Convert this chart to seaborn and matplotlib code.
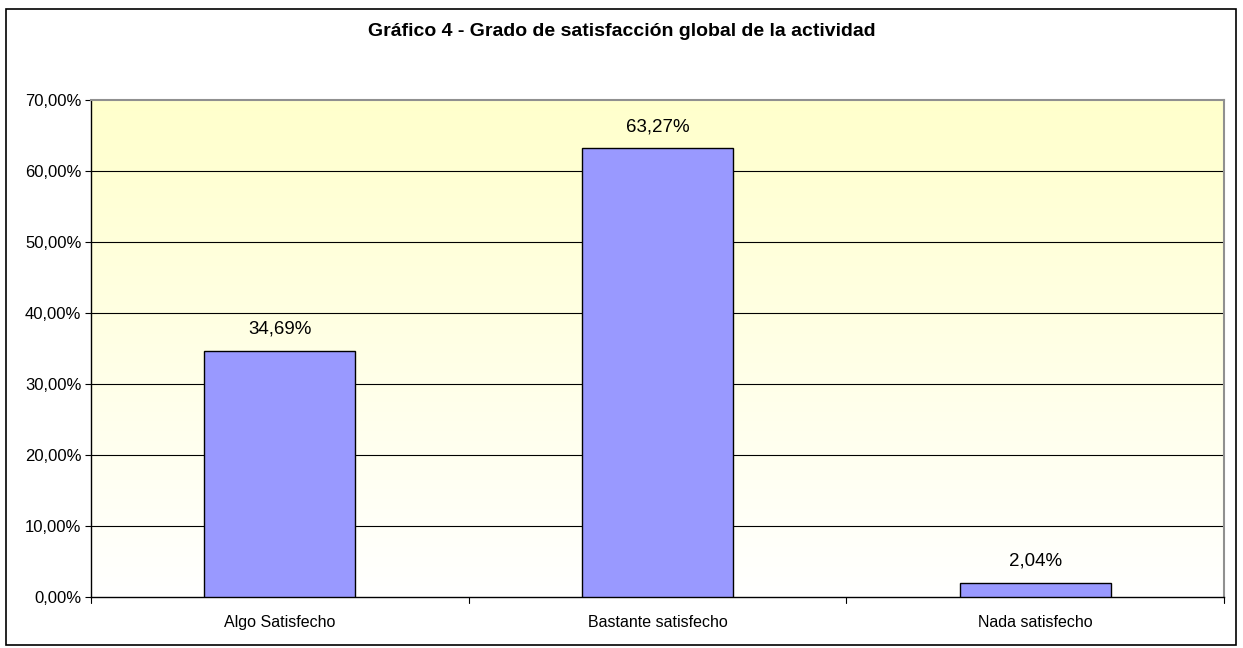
import numpy as np
import pandas as pd
import matplotlib
matplotlib.use("Agg")
import matplotlib.pyplot as plt
import seaborn as sns
from matplotlib.patches import Rectangle
from matplotlib.colors import LinearSegmentedColormap

categories = ["Algo Satisfecho", "Bastante satisfecho", "Nada satisfecho"]
values = [34.69, 63.27, 2.04]
value_labels = ["34,69%", "63,27%", "2,04%"]
yticks = [0, 10, 20, 30, 40, 50, 60, 70]
ytick_labels = ["0,00%", "10,00%", "20,00%", "30,00%", "40,00%", "50,00%", "60,00%", "70,00%"]
title = "Gráfico 4 - Grado de satisfacción global de la actividad"

sns.set_theme(style="white")
plt.rcParams['font.family'] = ['Liberation Sans', 'DejaVu Sans']
plt.rcParams['text.color'] = 'black'
plt.rcParams['xtick.color'] = 'black'
plt.rcParams['ytick.color'] = 'black'

fig = plt.figure(figsize=(12.43, 6.48), dpi=100)
ax = fig.add_axes([91/1243, 1 - 597/648, (1224-91)/1243, (597-100)/648])

df = pd.DataFrame({"cat": categories, "val": values})
sns.barplot(data=df, x="cat", y="val", ax=ax, color="#9999FF", width=0.4,
            edgecolor="black", linewidth=1.0, saturation=1, zorder=3)

# gradient background
cmap = LinearSegmentedColormap.from_list("g", ["#FFFFFF", "#FFFFCC"])
grad = np.linspace(0, 1, 256).reshape(-1, 1)
ax.imshow(grad, cmap=cmap, aspect="auto", extent=[0, 1, 0, 1], origin="lower",
          transform=ax.transAxes, zorder=0)

ax.set_xlim(-0.5, 2.5)
ax.set_ylim(0, 70)
ax.set_yticks(yticks)
ax.set_yticklabels(ytick_labels, fontsize=12, color="black")
for y in yticks[1:-1]:
    ax.axhline(y, color="black", linewidth=0.8, zorder=1)

ax.set_xticks([0, 1, 2])
ax.set_xticklabels(categories, fontsize=11.5, color="black")
ax.tick_params(axis="x", length=0, pad=13)
ax.tick_params(axis="y", length=4, width=0.8, color="black", left=True, pad=3)
ax.set_xlabel("")
ax.set_ylabel("")

# category boundary ticks on x axis
for xb in [-0.5, 0.5, 1.5, 2.5]:
    ax.plot([xb, xb], [0, -0.012], transform=ax.get_xaxis_transform(), color="black",
            linewidth=0.8, clip_on=False, zorder=5)

for s in ["left", "bottom"]:
    ax.spines[s].set_color("black")
    ax.spines[s].set_linewidth(1.0)
for s in ["top", "right"]:
    ax.spines[s].set_color("#909090")
    ax.spines[s].set_linewidth(1.5)

for i, (v, lab) in enumerate(zip(values, value_labels)):
    ax.text(i, v + 1.8, lab, ha="center", va="bottom", fontsize=13.5, color="black", zorder=6)

fig.text(0.5, 1 - 32/648, title, ha="center", va="center", fontsize=14, fontweight="bold",
         color="black")

fig.patches.append(Rectangle((6/1243, 1 - 645/648), (1236-6)/1243, (645-9)/648,
                             transform=fig.transFigure, fill=False, edgecolor="black",
                             linewidth=1.2))

fig.savefig("out.png", dpi=100)
